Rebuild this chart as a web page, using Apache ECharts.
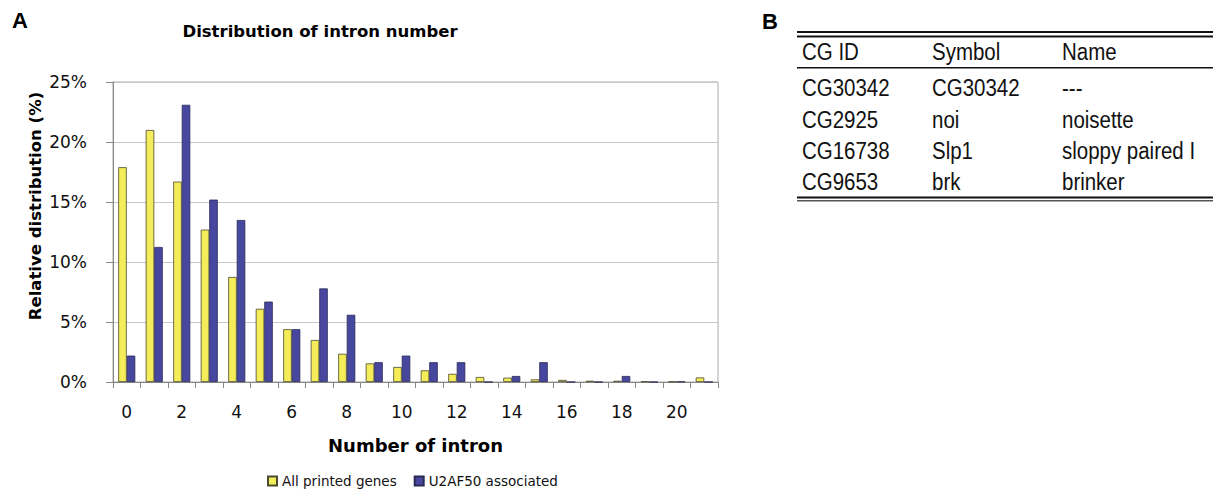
<!DOCTYPE html>
<html>
<head>
<meta charset="utf-8">
<script src="https://cdn.jsdelivr.net/npm/echarts@6/dist/echarts.min.js"></script>
<style>
html,body{margin:0;padding:0;background:#fff;}
#chart{width:1218px;height:489px;}
</style>
</head>
<body>
<div id="chart"></div>
<script>
// ---- data ----
var categories = ['0','1','2','3','4','5','6','7','8','9','10','11','12','13','14','15','16','17','18','19','20','21'];
var allPrinted = [17.9, 21.0, 16.7, 12.7, 8.75, 6.1, 4.4, 3.5, 2.35, 1.55, 1.25, 0.97, 0.68, 0.42, 0.36, 0.22, 0.17, 0.1, 0.1, 0.05, 0.04, 0.38];
var u2af50 = [2.2, 11.25, 23.1, 15.2, 13.5, 6.7, 4.4, 7.8, 5.6, 1.65, 2.2, 1.65, 1.65, 0, 0.5, 1.65, 0, 0, 0.5, 0, 0.03, 0];
var seriesNames = ['All printed genes', 'U2AF50 associated'];
var yTicks = [0, 5, 10, 15, 20, 25];
var chartTitle = 'Distribution of intron number';
var xName = 'Number of intron';
var yName = 'Relative distribution (%)';
var tableHeader = ['CG ID', 'Symbol', 'Name'];
var tableIds = ['CG30342', 'CG2925', 'CG16738', 'CG9653'];
var tableSymbols = ['CG30342', 'noi', 'Slp1', 'brk'];
var tableNames = ['---', 'noisette', 'sloppy paired I', 'brinker'];

var FONT = 'DejaVu Sans';
var chart = echarts.init(document.getElementById('chart'), null, {renderer: 'svg'});

// table graphics
var colX = [802, 932, 1062];
var rowY = [52, 88, 120, 151, 182];
var graphics = [
  {type:'text', left: 12, top: 9, style:{text:'A', font:'bold 22px "Liberation Sans"', fill:'#000'}},
  {type:'text', left: 762, top: 10, style:{text:'B', font:'bold 22px "Liberation Sans"', fill:'#000'}},
  {type:'text', x: 320, y: 31, style:{text: chartTitle, font:'bold 16.5px "DejaVu Sans"', fill:'#000', textAlign:'center', textVerticalAlign:'middle'}},
  {type:'text', x: 35, y: 206, rotation: Math.PI/2, style:{text: yName, font:'bold 16.5px "DejaVu Sans"', fill:'#000', textAlign:'center', textVerticalAlign:'middle'}},
  {type:'rect', shape:{x:797, y:31, width:416, height:2}, style:{fill:'#111'}},
  {type:'rect', shape:{x:797, y:35.5, width:416, height:2}, style:{fill:'#111'}},
  {type:'rect', shape:{x:797, y:67, width:416, height:1.6}, style:{fill:'#111'}},
  {type:'rect', shape:{x:797, y:196.5, width:416, height:2}, style:{fill:'#111'}},
  {type:'rect', shape:{x:797, y:200, width:416, height:1.6}, style:{fill:'#555'}}
];
function addCell(txt, ci, ri){
  graphics.push({type:'text', x: colX[ci], y: rowY[ri], scaleX: 0.89,
    style:{text: txt, font:'23px "Liberation Sans"', fill:'#111', textVerticalAlign:'middle'}});
}
tableHeader.forEach(function(t,i){ addCell(t, i, 0); });
for (var r = 0; r < tableIds.length; r++) {
  addCell(tableIds[r], 0, r+1);
  addCell(tableSymbols[r], 1, r+1);
  addCell(tableNames[r], 2, r+1);
}

var option = {
  animation: false,
  backgroundColor: '#fff',
  grid: {left: 113, right: 500, top: 82, bottom: 107, show: true, borderColor: '#aaa', borderWidth: 1},
  legend: {
    left: 267, top: 474, padding: 0,
    itemWidth: 9, itemHeight: 9, itemGap: 17,
    icon: 'rect',
    textStyle: {fontFamily: FONT, fontSize: 13.5, color: '#111'},
    data: seriesNames
  },
  xAxis: {
    type: 'category',
    data: categories,
    name: xName,
    nameLocation: 'middle',
    nameGap: 54,
    nameTextStyle: {fontFamily: FONT, fontWeight: 'bold', fontSize: 18, color: '#000'},
    axisLine: {lineStyle: {color: '#888', width: 1}},
    axisTick: {show: true, interval: 0, length: 6, lineStyle: {color: '#888'}},
    axisLabel: {interval: 1, margin: 21, fontFamily: FONT, fontSize: 17, color: '#111'}
  },
  yAxis: {
    type: 'value',
    min: 0, max: 25, interval: 5,
    axisLine: {show: true, lineStyle: {color: '#888', width: 1}},
    axisTick: {show: true, length: 7, lineStyle: {color: '#888'}},
    axisLabel: {margin: 26, fontFamily: FONT, fontSize: 17, color: '#111',
      formatter: function(v){ return yTicks.indexOf(v) >= 0 ? v + '%' : ''; }},
    splitLine: {lineStyle: {color: '#c8c8c8', width: 1}}
  },
  series: [
    {name: seriesNames[0], type: 'bar', data: allPrinted, barGap: '0%', barCategoryGap: '38%',
     itemStyle: {color: '#f4ec58', borderColor: '#4a4a30', borderWidth: 0.8}},
    {name: seriesNames[1], type: 'bar', data: u2af50,
     itemStyle: {color: '#4747a0', borderColor: '#2a2a55', borderWidth: 0.8}}
  ],
  graphic: graphics
};
chart.setOption(option);
</script>
</body>
</html>
